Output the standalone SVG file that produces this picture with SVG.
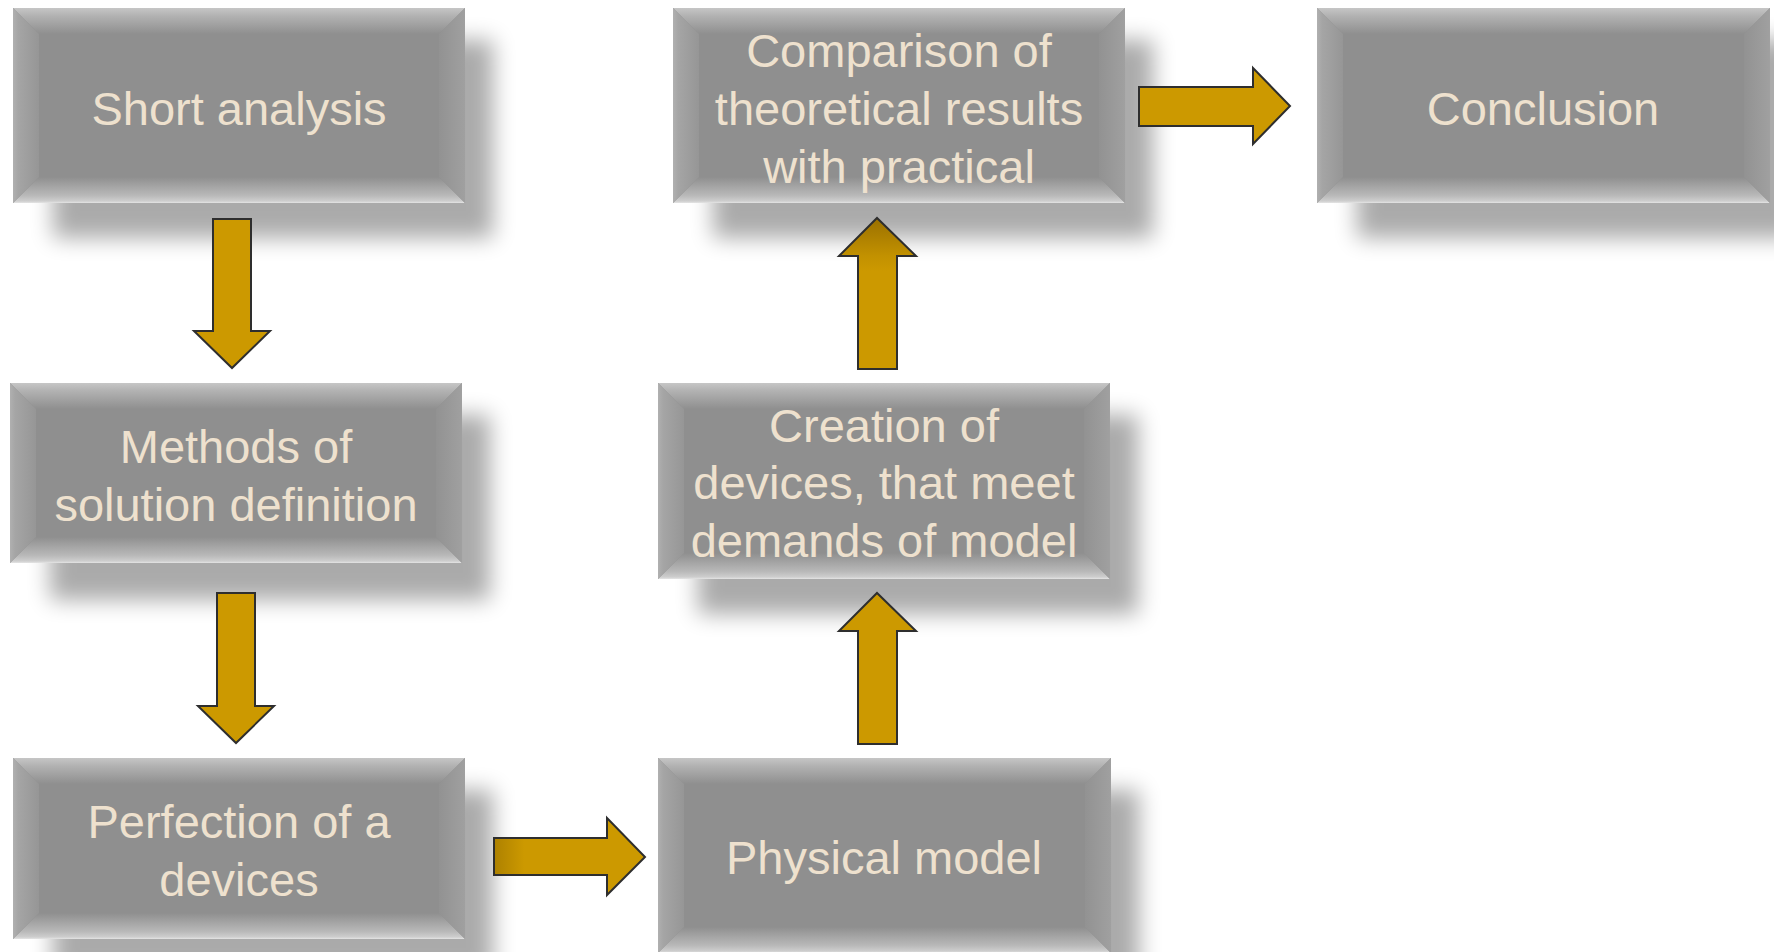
<svg xmlns="http://www.w3.org/2000/svg" width="1774" height="952" viewBox="0 0 1774 952">
  <defs>
    <style>
      .face { fill: #8f8f8f; }
      .bt { fill: url(#bevTop); }
      .bb { fill: url(#bevBottom); }
      .bl { fill: url(#bevLeft); }
      .br { fill: url(#bevRight); }
      .shadow { fill: #000; opacity: 0.33; filter: url(#soft); }
      .label { font-family: "Liberation Sans", Arial, sans-serif; font-size: 47px; fill: #eee1ce; text-anchor: middle; }
      .arrow { fill: #cc9900; stroke: #2e2e2e; stroke-width: 2; stroke-linejoin: miter; }
    </style>
    <filter id="soft" x="-20%" y="-30%" width="140%" height="160%">
      <feGaussianBlur stdDeviation="11"/>
    </filter>
    <linearGradient id="bevTop" x1="0" y1="0" x2="0" y2="1">
      <stop offset="0" stop-color="#c6c6c6"/>
      <stop offset="0.3" stop-color="#b2b2b2"/>
      <stop offset="1" stop-color="#8f8f8f"/>
    </linearGradient>
    <linearGradient id="bevBottom" x1="0" y1="0" x2="0" y2="1">
      <stop offset="0" stop-color="#8f8f8f"/>
      <stop offset="0.7" stop-color="#b8b8b8"/>
      <stop offset="0.92" stop-color="#cdcdcd"/>
      <stop offset="1" stop-color="#e4e4e4"/>
    </linearGradient>
    <linearGradient id="bevLeft" x1="0" y1="0" x2="1" y2="0">
      <stop offset="0" stop-color="#b0b0b0"/>
      <stop offset="0.2" stop-color="#a5a5a5"/>
      <stop offset="1" stop-color="#969696"/>
    </linearGradient>
    <linearGradient id="bevRight" x1="0" y1="0" x2="1" y2="0">
      <stop offset="0" stop-color="#929292"/>
      <stop offset="1" stop-color="#a0a0a0"/>
    </linearGradient>
    <linearGradient id="tipShade" x1="0" y1="0" x2="0" y2="1">
      <stop offset="0" stop-color="#9a7000"/>
      <stop offset="0.25" stop-color="#c29100"/>
      <stop offset="0.35" stop-color="#cc9900"/>
    </linearGradient>
    <linearGradient id="tailShade" x1="0" y1="0" x2="1" y2="0">
      <stop offset="0" stop-color="#ad8100"/>
      <stop offset="0.2" stop-color="#cc9900"/>
    </linearGradient>
  </defs>

  <rect width="1774" height="952" fill="#ffffff"/>

  <!-- soft drop shadows behind every box -->
  <g id="shadows">
    <rect class="shadow" x="53" y="40" width="440" height="198"/>
    <rect class="shadow" x="50" y="415" width="440" height="185"/>
    <rect class="shadow" x="53" y="790" width="440" height="185"/>
    <rect class="shadow" x="713" y="40" width="440" height="198"/>
    <rect class="shadow" x="698" y="415" width="440" height="199"/>
    <rect class="shadow" x="698" y="790" width="441" height="198"/>
    <rect class="shadow" x="1357" y="40" width="441" height="198"/>
  </g>

  <!-- connectors -->
  <g id="connectors">
    <polygon class="arrow" points="213,219 251,219 251,331 270,331 232,368 194,331 213,331"/>
    <polygon class="arrow" points="217,593 255,593 255,706 274,706 236,743 198,706 217,706"/>
    <polygon class="arrow" style="fill:url(#tailShade)" points="494,838 607,838 607,818 645,857 607,895 607,875 494,875"/>
    <polygon class="arrow" points="858,744 897,744 897,631 916,631 877,593 839,631 858,631"/>
    <polygon class="arrow" style="fill:url(#tipShade)" points="858,369 897,369 897,256 916,256 877,218 839,256 858,256"/>
    <polygon class="arrow" points="1139,87 1253,87 1253,68 1290,106 1253,144 1253,126 1139,126"/>
  </g>

  <!-- Short analysis: x13 y8 w452 h195 -->
  <g id="node-short-analysis">
    <rect class="face" x="13" y="8" width="452" height="195"/>
    <polygon class="bt" points="13,8 465,8 439,34 39,34"/>
    <polygon class="bb" points="39,177 439,177 465,203 13,203"/>
    <polygon class="bl" points="13,8 39,34 39,177 13,203"/>
    <polygon class="br" points="439,34 465,8 465,203 439,177"/>
    <text class="label" x="239" y="125">Short analysis</text>
  </g>

  <!-- Methods: x10 y383 w452 h180 -->
  <g id="node-methods">
    <rect class="face" x="10" y="383" width="452" height="180"/>
    <polygon class="bt" points="10,383 462,383 436,409 36,409"/>
    <polygon class="bb" points="36,537 436,537 462,563 10,563"/>
    <polygon class="bl" points="10,383 36,409 36,537 10,563"/>
    <polygon class="br" points="436,409 462,383 462,563 436,537"/>
    <text class="label" x="236" y="463">Methods of</text>
    <text class="label" x="236" y="521">solution definition</text>
  </g>

  <!-- Perfection: x13 y758 w452 h181 -->
  <g id="node-perfection">
    <rect class="face" x="13" y="758" width="452" height="181"/>
    <polygon class="bt" points="13,758 465,758 439,784 39,784"/>
    <polygon class="bb" points="39,913 439,913 465,939 13,939"/>
    <polygon class="bl" points="13,758 39,784 39,913 13,939"/>
    <polygon class="br" points="439,784 465,758 465,939 439,913"/>
    <text class="label" x="239" y="838">Perfection of a</text>
    <text class="label" x="239" y="896">devices</text>
  </g>

  <!-- Comparison: x673 y8 w452 h195 -->
  <g id="node-comparison">
    <rect class="face" x="673" y="8" width="452" height="195"/>
    <polygon class="bt" points="673,8 1125,8 1099,34 699,34"/>
    <polygon class="bb" points="699,177 1099,177 1125,203 673,203"/>
    <polygon class="bl" points="673,8 699,34 699,177 673,203"/>
    <polygon class="br" points="1099,34 1125,8 1125,203 1099,177"/>
    <text class="label" x="899" y="67">Comparison of</text>
    <text class="label" x="899" y="125">theoretical results</text>
    <text class="label" x="899" y="183">with practical</text>
  </g>

  <!-- Creation: x658 y383 w452 h196 -->
  <g id="node-creation">
    <rect class="face" x="658" y="383" width="452" height="196"/>
    <polygon class="bt" points="658,383 1110,383 1084,409 684,409"/>
    <polygon class="bb" points="684,553 1084,553 1110,579 658,579"/>
    <polygon class="bl" points="658,383 684,409 684,553 658,579"/>
    <polygon class="br" points="1084,409 1110,383 1110,579 1084,553"/>
    <text class="label" x="884" y="442">Creation of</text>
    <text class="label" x="884" y="499">devices, that meet</text>
    <text class="label" x="884" y="557">demands of model</text>
  </g>

  <!-- Physical model: x658 y758 w453 h195 -->
  <g id="node-physical-model">
    <rect class="face" x="658" y="758" width="453" height="195"/>
    <polygon class="bt" points="658,758 1111,758 1085,784 684,784"/>
    <polygon class="bb" points="684,927 1085,927 1111,953 658,953"/>
    <polygon class="bl" points="658,758 684,784 684,927 658,953"/>
    <polygon class="br" points="1085,784 1111,758 1111,953 1085,927"/>
    <text class="label" x="884" y="874">Physical model</text>
  </g>

  <!-- Conclusion: x1317 y8 w453 h195 -->
  <g id="node-conclusion">
    <rect class="face" x="1317" y="8" width="453" height="195"/>
    <polygon class="bt" points="1317,8 1770,8 1744,34 1343,34"/>
    <polygon class="bb" points="1343,177 1744,177 1770,203 1317,203"/>
    <polygon class="bl" points="1317,8 1343,34 1343,177 1317,203"/>
    <polygon class="br" points="1744,34 1770,8 1770,203 1744,177"/>
    <text class="label" x="1543" y="125">Conclusion</text>
  </g>
</svg>
